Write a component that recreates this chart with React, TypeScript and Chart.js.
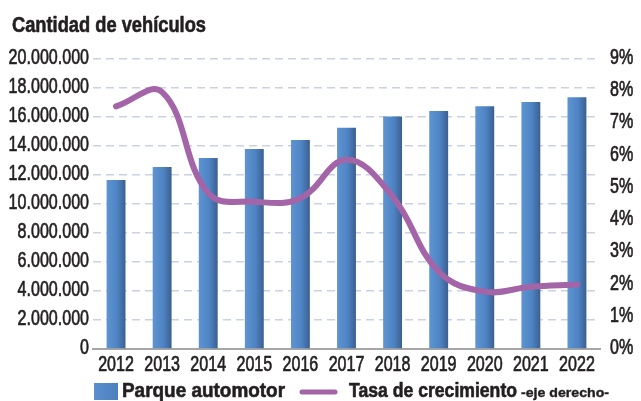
import React, { useEffect, useRef } from "react";
import { Chart, registerables } from "chart.js";

Chart.register(...registerables);

const years = ["2012", "2013", "2014", "2015", "2016", "2017", "2018", "2019", "2020", "2021", "2022"];
const parqueAutomotor = [11660000, 12550000, 13170000, 13790000, 14410000, 15260000, 16040000, 16410000, 16740000, 17030000, 17360000];
const tasaCrecimiento = [7.53, 7.97, 4.84, 4.57, 4.68, 5.87, 4.73, 2.4, 1.78, 1.93, 2.0];
const leftTicks = [0, 2000000, 4000000, 6000000, 8000000, 10000000, 12000000, 14000000, 16000000, 18000000, 20000000];
const rightTicks = [0, 1, 2, 3, 4, 5, 6, 7, 8, 9];

const titleText = "Cantidad de vehículos";
const legendBar = "Parque automotor";
const legendLine = "Tasa de crecimiento";
const legendLineNote = "-eje derecho-";

const FONT = '"Liberation Sans", Arial, sans-serif';
const BLUE = "#4f81bd";
const PURPLE = "#a464a8";
const TEXT = "#231f20";
const SX = 0.73;

function fmt(v: number) {
  return Math.round(v).toString().replace(/\B(?=(\d{3})+(?!\d))/g, ".");
}

function drawScaled(ctx: any, text: string, x: number, y: number, align: string, font: string, sx: number, stroke = 0) {
  ctx.save();
  ctx.font = font;
  ctx.textAlign = "left";
  ctx.textBaseline = "alphabetic";
  const w = ctx.measureText(text).width * sx;
  let left = x;
  if (align === "right") left = x - w;
  else if (align === "center") left = x - w / 2;
  ctx.translate(left, y);
  ctx.scale(sx, 1);
  ctx.fillText(text, 0, 0);
  if (stroke > 0) {
    ctx.strokeStyle = ctx.fillStyle;
    ctx.lineWidth = stroke;
    ctx.lineJoin = "round";
    ctx.strokeText(text, 0, 0);
  }
  ctx.restore();
  return w;
}

function drawFit(ctx: any, text: string, x: number, y: number, font: string, width: number, stroke = 0) {
  ctx.save();
  ctx.font = font;
  const sx = width / ctx.measureText(text).width;
  ctx.restore();
  return drawScaled(ctx, text, x, y, "left", font, sx, stroke);
}

const overlayPlugin = {
  id: "overlay",
  afterDraw(chart: any) {
    const ctx = chart.ctx;
    ctx.save();
    ctx.fillStyle = TEXT;
    const tickFont = `22px ${FONT}`;

    const ys = chart.scales.y;
    ys.ticks.forEach((t: any) => {
      const py = ys.getPixelForValue(t.value);
      drawScaled(ctx, fmt(t.value), 89, py + 5, "right", tickFont, SX, 0.7);
    });
    const y1 = chart.scales.y1;
    y1.ticks.forEach((t: any) => {
      const py = y1.getPixelForValue(t.value);
      drawScaled(ctx, `${t.value}%`, 610, py + 5, "left", tickFont, SX, 0.7);
    });
    const xs = chart.scales.x;
    years.forEach((lab, i) => {
      const px = xs.getPixelForValue(i);
      drawScaled(ctx, lab, px, 370.5, "center", tickFont, SX, 0.7);
    });

    drawFit(ctx, titleText, 12, 32, `bold 22px ${FONT}`, 194, 0.6);

    // legend
    const grad = ctx.createLinearGradient(94, 0, 118, 0);
    grad.addColorStop(0, "#5b8fd0");
    grad.addColorStop(1, "#4c7fbd");
    ctx.fillStyle = grad;
    ctx.fillRect(94, 383, 24, 17);
    ctx.fillStyle = TEXT;
    drawFit(ctx, legendBar, 122, 397, `bold 20px ${FONT}`, 163, 0.6);
    ctx.strokeStyle = PURPLE;
    ctx.lineWidth = 5;
    ctx.lineCap = "round";
    ctx.beginPath();
    ctx.moveTo(302, 392);
    ctx.lineTo(335, 392);
    ctx.stroke();
    drawFit(ctx, legendLine, 349, 397, `bold 20px ${FONT}`, 168, 0.6);
    drawFit(ctx, legendLineNote, 521, 397, `bold 13px ${FONT}`, 88, 0.4);
    ctx.restore();
  },
};

export default function App() {
  const ref = useRef<HTMLCanvasElement | null>(null);
  useEffect(() => {
    if (!ref.current) return;
    const chart = new Chart(ref.current, {
      type: "bar",
      data: {
        labels: years,
        datasets: [
          {
            type: "line",
            label: legendLine,
            data: tasaCrecimiento,
            yAxisID: "y1",
            borderColor: PURPLE,
            borderWidth: 6,
            pointRadius: 0,
            tension: 0.4,
            borderCapStyle: "round",
            order: 0,
          } as any,
          {
            type: "bar",
            label: legendBar,
            data: parqueAutomotor,
            yAxisID: "y",
            order: 1,
            barPercentage: 0.82,
            categoryPercentage: 0.5,
            backgroundColor: (c: any) => {
              const chart = c.chart;
              const xs = chart.scales && chart.scales.x;
              if (!xs || c.type !== "data") return BLUE;
              const cx = xs.getPixelForValue(c.dataIndex);
              if (!Number.isFinite(cx)) return BLUE;
              const g = chart.ctx.createLinearGradient(cx - 10, 0, cx + 10, 0);
              g.addColorStop(0, "#6095d3");
              g.addColorStop(0.55, "#4f84c4");
              g.addColorStop(1, "#3a5d8c");
              return g;
            },
          } as any,
        ],
      },
      options: {
        animation: false,
        responsive: false,
        maintainAspectRatio: false,
        layout: { padding: { top: 59, bottom: 24, left: 0, right: 0 } },
        plugins: {
          legend: { display: false },
          tooltip: { enabled: false },
          title: { display: false },
        },
        scales: {
          x: {
            grid: { display: false },
            border: { display: true, color: "#a6a6a6", width: 2 },
            ticks: { display: false },
            afterFit: (s: any) => {
              s.height = 28;
            },
          },
          y: {
            position: "left",
            min: 0,
            max: 20000000,
            afterBuildTicks: (s: any) => {
              s.ticks = leftTicks.map((v) => ({ value: v }));
            },
            ticks: { display: false },
            grid: {
              color: (c: any) => (c.index === 0 ? "rgba(0,0,0,0)" : "#c9d1e3"),
              lineWidth: 1.5,
              drawTicks: false,
            },
            border: { display: false, dash: [8, 5] },
            afterFit: (s: any) => {
              s.width = 93;
            },
          },
          y1: {
            position: "right",
            min: 0,
            max: 9,
            afterBuildTicks: (s: any) => {
              s.ticks = rightTicks.map((v) => ({ value: v }));
            },
            ticks: { display: false },
            grid: { display: false, drawTicks: false },
            border: { display: false },
            afterFit: (s: any) => {
              s.width = 41;
            },
          },
        },
      } as any,
      plugins: [overlayPlugin],
    });
    return () => chart.destroy();
  }, []);
  return (
    <div style={{ position: "fixed", left: 0, top: 0, width: 641, height: 401, background: "#fff" }}>
      <canvas ref={ref} width={641} height={401} style={{ width: 641, height: 401, display: "block" }} />
    </div>
  );
}
